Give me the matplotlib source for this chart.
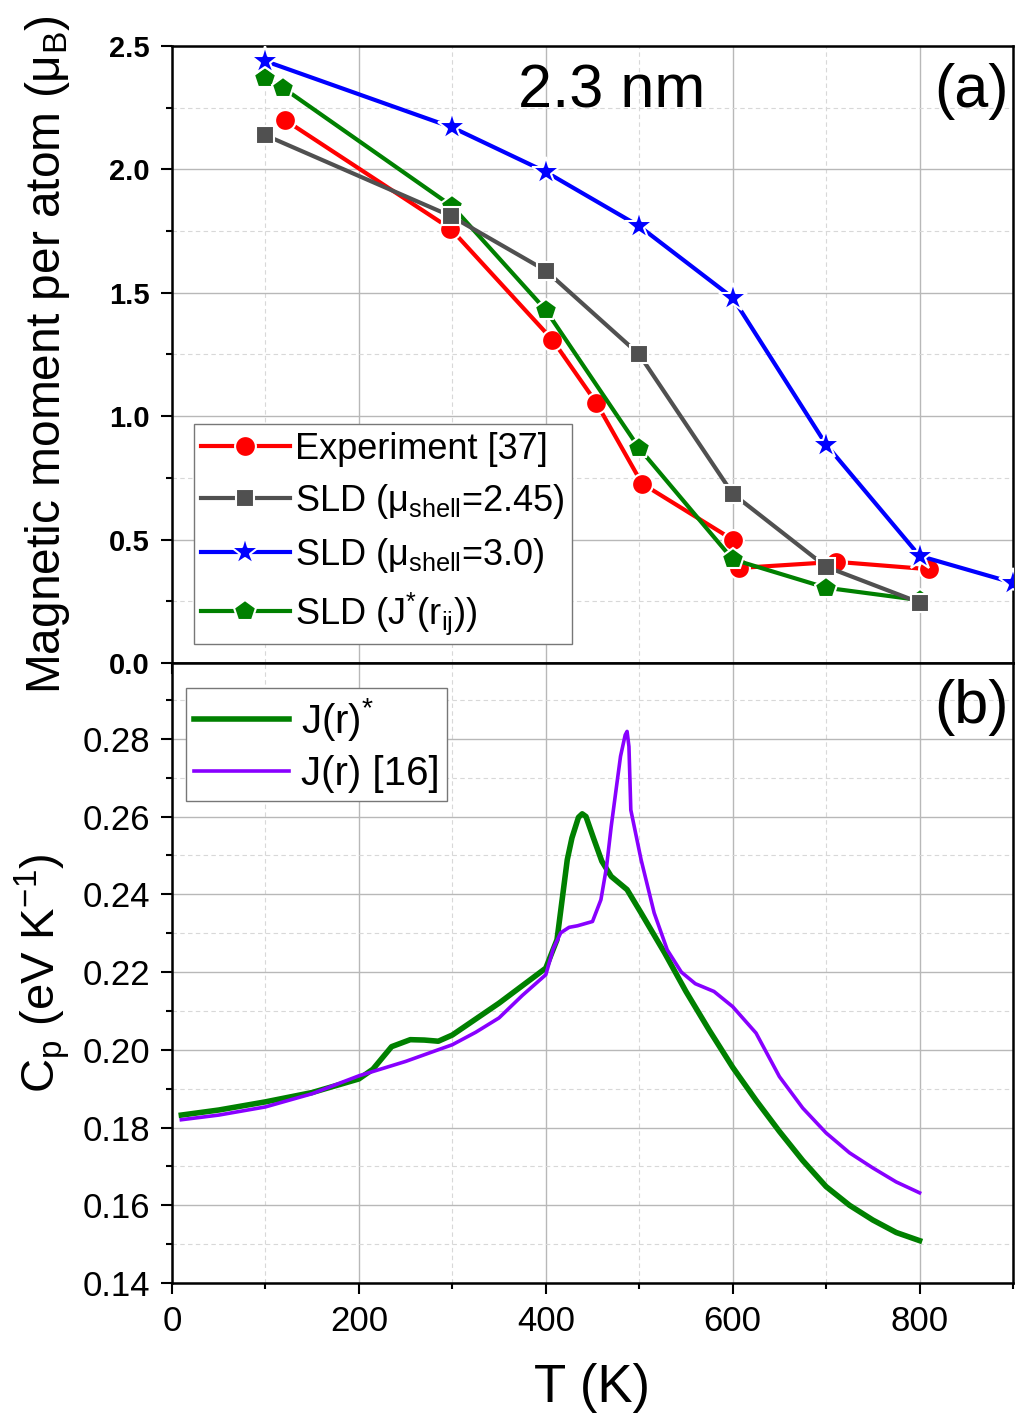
import matplotlib
matplotlib.use('Agg')
from matplotlib import pyplot as plt
from matplotlib.ticker import MultipleLocator

plt.rcParams['font.family'] = ['Liberation Sans', 'DejaVu Sans']
plt.rcParams['mathtext.fontset'] = 'custom'
plt.rcParams['mathtext.rm'] = 'Liberation Sans'
plt.rcParams['mathtext.it'] = 'Liberation Sans:italic'
plt.rcParams['mathtext.bf'] = 'Liberation Sans:bold'

# (a) magnetic moment per atom
exp_T = [121, 298, 407, 454, 503, 600, 607, 711, 810]
exp_m = [2.20, 1.76, 1.31, 1.055, 0.727, 0.50, 0.385, 0.41, 0.38]

sld245_T = [99, 299, 400, 500, 600, 700, 800]
sld245_m = [2.14, 1.81, 1.59, 1.25, 0.686, 0.39, 0.245]

sld30_T = [99, 300, 400, 500, 600, 700, 800, 900]
sld30_m = [2.44, 2.17, 1.99, 1.77, 1.48, 0.885, 0.434, 0.325]

sldj_T = [99, 119, 300, 400, 500, 600, 700, 800]
sldj_m = [2.37, 2.33, 1.85, 1.43, 0.87, 0.42, 0.305, 0.255]

# (b) heat capacity
cp_star_T = [10, 50, 100, 150, 200, 215, 235, 255, 270, 285, 300, 350, 400, 412, 423,
             428, 435, 439, 443, 451, 460, 470, 487, 502, 527, 550, 575, 600, 625, 650,
             675, 700, 725, 750, 775, 800]
cp_star = [0.1832, 0.1845, 0.1866, 0.1890, 0.1925, 0.1950, 0.2008, 0.2026, 0.2025, 0.2022,
           0.2038, 0.2120, 0.2210, 0.2283, 0.2489, 0.2545, 0.2598, 0.2607, 0.2600, 0.2545,
           0.2485, 0.2446, 0.2412, 0.2352, 0.2250, 0.2150, 0.2050, 0.1955, 0.1870, 0.1790,
           0.1715, 0.1648, 0.1600, 0.1562, 0.1530, 0.1509]

cp16_T = [10, 50, 100, 150, 200, 250, 300, 325, 350, 375, 400, 408, 416, 425, 434, 450,
          459, 465, 470, 475, 480, 485, 487, 489, 491, 502, 516, 530, 545, 560, 580, 600,
          625, 650, 675, 700, 725, 750, 775, 800]
cp16 = [0.1820, 0.1832, 0.1853, 0.1887, 0.1933, 0.1970, 0.2013, 0.2045, 0.2082, 0.2140,
        0.2193, 0.2260, 0.2301, 0.2315, 0.2319, 0.2330, 0.2386, 0.2470, 0.2574, 0.2665,
        0.2755, 0.2810, 0.2819, 0.2780, 0.2617, 0.2489, 0.2352, 0.2257, 0.2200, 0.2170,
        0.2150, 0.2111, 0.2043, 0.1931, 0.1850, 0.1786, 0.1735, 0.1696, 0.1660, 0.1632]

W, H = 1022, 1420
fig = plt.figure(figsize=(W / 100, H / 100), dpi=100)
left = 172 / W
width = (1013 - 172) / W
ax1 = fig.add_axes([left, 1 - 663 / H, width, (663 - 46) / H])
ax2 = fig.add_axes([left, 1 - 1283 / H, width, (1283 - 663) / H])


def styleAxes(ax):
    for s in ax.spines.values():
        s.set_linewidth(1.8)
    ax.grid(True, which='major', color='#b8b8b8', lw=1.0, ls='-')
    ax.grid(True, which='minor', color='#d8d8d8', lw=0.8, ls=(0, (4, 3)))
    ax.set_axisbelow(True)
    ax.tick_params(which='major', direction='out', length=8, width=1.5, pad=8,
                   right=False, top=False)
    ax.tick_params(which='minor', direction='out', length=4, width=1.5,
                   right=False, top=False)


mk = dict(mec='white', mew=1.5, lw=3)
ax1.plot(exp_T, exp_m, '-o', color='#ff0000', ms=15, label='Experiment [37]', zorder=2, **mk)
ax1.plot(sld245_T, sld245_m, '-s', color='#505050', ms=13, label='SLD (μ$_\\mathrm{shell}$=2.45)', zorder=4, **mk)
ax1.plot(sld30_T, sld30_m, '-*', color='#0000ff', ms=21, label='SLD (μ$_\\mathrm{shell}$=3.0)', zorder=5, **mk)
ax1.plot(sldj_T, sldj_m, '-p', color='#008000', ms=16, label='SLD (J$^{*}$(r$_\\mathrm{ij}$))', zorder=3, **mk)

styleAxes(ax1)
ax1.set_xlim(0, 900)
ax1.set_ylim(0, 2.5)
ax1.xaxis.set_major_locator(MultipleLocator(200))
ax1.xaxis.set_minor_locator(MultipleLocator(100))
ax1.yaxis.set_minor_locator(MultipleLocator(0.25))
ax1.set_yticks([0.0, 0.5, 1.0, 1.5, 2.0, 2.5])
ax1.set_yticklabels(['0.0', '0.5', '1.0', '1.5', '2.0', '2.5'], fontsize=21, fontweight='bold')
ax1.tick_params(axis='x', labelbottom=False)
ax1.set_ylabel('Magnetic moment per atom (μ$_\\mathrm{B}$)', fontsize=34.5)
ax1.yaxis.set_label_coords((72 - 172) / 841, 0.5)
ax1.text(612 / W, 1 - 92 / H, '2.3 nm', transform=fig.transFigure, fontsize=44,
         ha='center', va='center')
ax1.text(971 / W, 1 - 92 / H, '(a)', transform=fig.transFigure, fontsize=44,
         ha='center', va='center')
leg1 = ax1.legend(loc='lower left', bbox_to_anchor=((194 - 172) / 841, (663 - 644) / 617),
                  fontsize=26, handlelength=2.45, handletextpad=0.15, borderpad=0.2,
                  labelspacing=0.42, borderaxespad=0, fancybox=False, framealpha=1,
                  edgecolor='#777777')
leg1.get_frame().set_linewidth(1.0)

ax2.plot(cp_star_T, cp_star, '-', color='#008000', lw=4, label='J(r)$^{*}$')
ax2.plot(cp16_T, cp16, '-', color='#8800ff', lw=2.6, label='J(r) [16]')
styleAxes(ax2)
ax2.set_xlim(0, 900)
ax2.set_ylim(0.14, 0.2995)
ax2.xaxis.set_minor_locator(MultipleLocator(100))
ax2.set_xticks([0, 200, 400, 600, 800])
ax2.yaxis.set_minor_locator(MultipleLocator(0.01))
ax2.set_yticks([0.14, 0.16, 0.18, 0.20, 0.22, 0.24, 0.26, 0.28])
ax2.set_yticklabels(['0.14', '0.16', '0.18', '0.20', '0.22', '0.24', '0.26', '0.28'])
ax2.tick_params(axis='both', labelsize=25)
ax2.set_xlabel('T (K)', fontsize=38, labelpad=18)
ax2.set_ylabel('C$_\\mathrm{p}$ (eV K$^{-1}$)', fontsize=34)
ax2.yaxis.set_label_coords((72 - 172) / 841, 0.5)
ax2.text(971 / W, 1 - 708 / H, '(b)', transform=fig.transFigure, fontsize=44,
         ha='center', va='center')
leg2 = ax2.legend(loc='upper left', bbox_to_anchor=((186 - 172) / 841, 1 - (688 - 663) / 620),
                  fontsize=29, handlelength=2.35, handletextpad=0.3, borderpad=0.2,
                  labelspacing=0.3, borderaxespad=0, fancybox=False, framealpha=1,
                  edgecolor='#777777')
leg2.get_frame().set_linewidth(1.0)

plt.savefig('out.png', dpi=100)
